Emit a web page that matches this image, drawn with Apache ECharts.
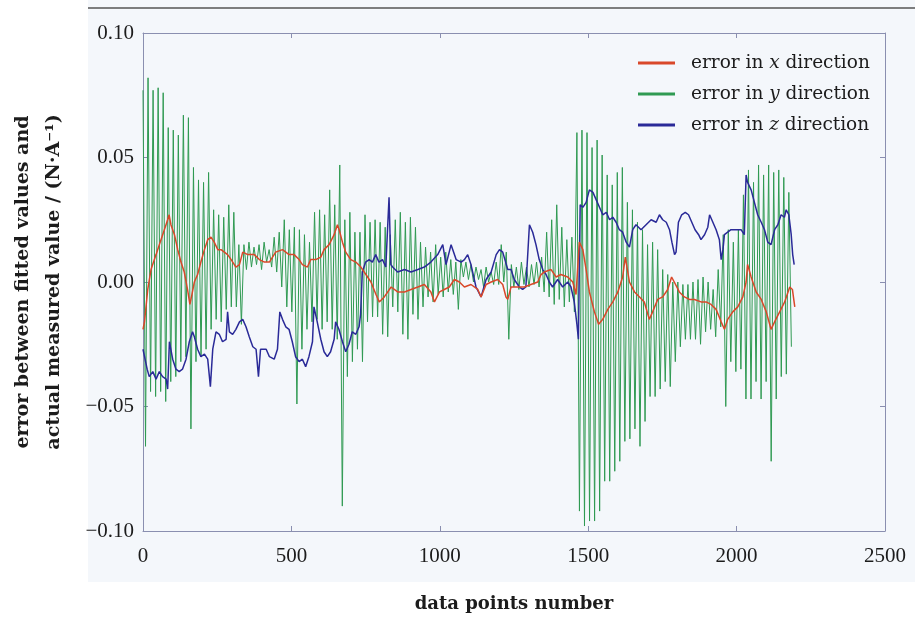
<!DOCTYPE html>
<html>
<head>
<meta charset="utf-8">
<script src="https://cdn.jsdelivr.net/npm/echarts@6/dist/echarts.min.js"></script>
<style>
  html, body { margin: 0; padding: 0; background: #fff; }
  #main { width: 915px; height: 618px; }
</style>
</head>
<body>
<div id="main"></div>
<script>
// y direction: one oscillation every 17 samples, peak then trough
var cycleLen = 17;
var greenHigh = [
  0.077, 0.082, 0.077, 0.078, 0.076, 0.062, 0.061, 0.059, 0.067, 0.066,
  0.046, 0.041, 0.040, 0.044, 0.029, 0.027, 0.026, 0.031, 0.028, 0.015,
  0.015, 0.016, 0.014, 0.015, 0.016, 0.013, 0.018, 0.020, 0.025, 0.021,
  0.022, 0.021, 0.019, 0.016, 0.028, 0.029, 0.027, 0.037, 0.031, 0.047,
  0.025, 0.028, 0.020, 0.020, 0.027, 0.024, 0.025, 0.024, 0.022, 0.019,
  0.025, 0.028, 0.024, 0.026, 0.022, 0.016, 0.014, 0.012, 0.015, 0.010,
  0.012, 0.009, 0.008, 0.009, 0.008, 0.007, 0.006, 0.005, 0.006, 0.004,
  0.008, 0.015, 0.012, 0.007, 0.006, 0.008, 0.006, 0.007, 0.008, 0.010,
  0.020, 0.025, 0.031, 0.022, 0.017, 0.018, 0.060, 0.061, 0.060, 0.054,
  0.057, 0.051, 0.043, 0.039, 0.044, 0.046, 0.032, 0.029, 0.024, 0.021,
  0.015, 0.016, 0.013, 0.005, 0.003, 0.000, 0.000, -0.001, -0.001, 0.000,
  0.001, 0.002, 0.000, -0.003, 0.005, 0.019, 0.021, 0.016, 0.021, 0.035,
  0.045, 0.040, 0.047, 0.043, 0.047, 0.044, 0.045, 0.042, 0.036
];
var greenLow = [
  -0.066, -0.044, -0.046, -0.044, -0.048, -0.040, -0.038, -0.032, -0.030, -0.059,
  -0.032, -0.030, -0.027, -0.019, -0.015, -0.016, -0.011, -0.010, -0.010, -0.017,
  0.005, 0.006, 0.007, 0.005, 0.008, 0.006, 0.004, -0.002, -0.010, -0.012,
  -0.049, -0.027, -0.019, -0.016, -0.015, -0.019, -0.016, -0.019, -0.023, -0.090,
  -0.038, -0.032, -0.027, -0.032, -0.016, -0.014, -0.014, -0.021, -0.022, -0.010,
  -0.012, -0.021, -0.023, -0.013, -0.015, -0.010, -0.006, -0.008, -0.005, -0.006,
  -0.004, -0.005, -0.011, 0.002, 0.001, 0.000, 0.001, -0.002, 0.000, -0.001,
  -0.001, 0.000, -0.023, -0.002, -0.003, -0.001, -0.002, -0.001, -0.002, -0.004,
  -0.006, -0.009, -0.007, -0.010, -0.008, -0.012, -0.092, -0.098, -0.096, -0.096,
  -0.092, -0.080, -0.080, -0.076, -0.072, -0.064, -0.063, -0.059, -0.066, -0.056,
  -0.046, -0.046, -0.043, -0.040, -0.042, -0.032, -0.026, -0.023, -0.023, -0.023,
  -0.025, -0.020, -0.019, -0.022, -0.018, -0.050, -0.032, -0.036, -0.035, -0.047,
  -0.047, -0.040, -0.047, -0.040, -0.072, -0.047, -0.038, -0.037, -0.026
];

// x direction: [data point, error]
var errorX = [
  [0, -0.019], [5, -0.016], [16, -0.003], [27, 0.005], [44, 0.011], [55, 0.015], [72, 0.021],
  [83, 0.025], [88, 0.027], [94, 0.023], [106, 0.019], [117, 0.013], [128, 0.008], [139, 0.004],
  [150, -0.003], [158, -0.009], [165, -0.005], [173, 0.000], [184, 0.003], [195, 0.008],
  [207, 0.013], [218, 0.017], [229, 0.018], [240, 0.016], [252, 0.013], [263, 0.013],
  [274, 0.012], [285, 0.011], [297, 0.009], [313, 0.006], [325, 0.007], [336, 0.012],
  [353, 0.011], [375, 0.011], [392, 0.009], [409, 0.008], [426, 0.008], [447, 0.012],
  [470, 0.013], [492, 0.011], [509, 0.011], [526, 0.009], [537, 0.007], [554, 0.006],
  [565, 0.009], [582, 0.009], [599, 0.010], [610, 0.013], [627, 0.015], [644, 0.019],
  [655, 0.023], [661, 0.021], [672, 0.016], [683, 0.012], [700, 0.009], [717, 0.008],
  [734, 0.006], [751, 0.003], [768, 0.000], [785, -0.005], [796, -0.008], [813, -0.006],
  [836, -0.002], [858, -0.004], [881, -0.004], [903, -0.003], [926, -0.002], [948, -0.001],
  [970, -0.004], [982, -0.008], [999, -0.004], [1015, -0.003], [1032, -0.002], [1049, 0.001],
  [1066, 0.000], [1083, -0.002], [1105, -0.001], [1128, -0.003], [1139, -0.006], [1156, -0.001],
  [1173, 0.000], [1195, 0.001], [1212, -0.001], [1223, -0.006], [1229, -0.007], [1240, -0.002],
  [1262, -0.002], [1285, -0.002], [1307, -0.001], [1330, 0.000], [1341, 0.003], [1352, 0.004],
  [1375, 0.005], [1392, 0.002], [1408, 0.003], [1431, 0.002], [1448, 0.000], [1459, -0.005],
  [1470, 0.016], [1482, 0.013], [1493, 0.005], [1504, -0.004], [1521, -0.012], [1535, -0.017],
  [1549, -0.015], [1566, -0.011], [1583, -0.008], [1600, -0.004], [1616, 0.002], [1625, 0.010],
  [1639, 0.000], [1656, -0.004], [1673, -0.006], [1689, -0.008], [1706, -0.015], [1717, -0.012],
  [1734, -0.007], [1751, -0.006], [1768, -0.003], [1781, 0.002], [1790, 0.000], [1807, -0.004],
  [1824, -0.006], [1841, -0.007], [1858, -0.007], [1880, -0.008], [1897, -0.008], [1914, -0.009],
  [1931, -0.011], [1948, -0.016], [1959, -0.019], [1970, -0.015], [1987, -0.012], [2004, -0.010],
  [2021, -0.006], [2032, 0.000], [2037, 0.007], [2049, 0.002], [2066, -0.004], [2083, -0.007],
  [2100, -0.012], [2116, -0.019], [2128, -0.016], [2145, -0.012], [2162, -0.008], [2179, -0.002],
  [2188, -0.003], [2196, -0.010]
];

// z direction: [data point, error]
var errorZ = [
  [0, -0.027], [5, -0.027], [14, -0.035], [21, -0.038], [33, -0.036], [44, -0.039], [55, -0.036],
  [66, -0.038], [78, -0.039], [83, -0.043], [89, -0.024], [100, -0.031], [111, -0.035], [122, -0.036],
  [133, -0.035], [145, -0.031], [156, -0.024], [167, -0.020], [173, -0.022], [184, -0.027],
  [195, -0.030], [207, -0.029], [218, -0.031], [227, -0.042], [235, -0.027], [246, -0.020],
  [257, -0.021], [268, -0.024], [280, -0.023], [285, -0.012], [291, -0.020], [302, -0.021],
  [313, -0.019], [325, -0.016], [336, -0.015], [347, -0.018], [358, -0.022], [370, -0.026],
  [381, -0.027], [389, -0.038], [396, -0.027], [403, -0.027], [415, -0.027], [426, -0.030],
  [442, -0.031], [453, -0.027], [461, -0.012], [470, -0.015], [481, -0.018], [492, -0.019],
  [503, -0.024], [514, -0.030], [526, -0.032], [537, -0.031], [548, -0.034], [559, -0.030],
  [571, -0.024], [576, -0.010], [587, -0.016], [599, -0.023], [610, -0.028], [621, -0.030],
  [632, -0.028], [644, -0.023], [649, -0.016], [660, -0.019], [672, -0.024], [683, -0.028],
  [694, -0.025], [705, -0.020], [717, -0.021], [728, -0.018], [733, -0.013], [739, 0.004],
  [750, 0.008], [762, 0.009], [773, 0.008], [784, 0.011], [795, 0.008], [807, 0.009],
  [818, 0.006], [829, 0.034], [835, 0.007], [841, 0.006], [858, 0.004], [881, 0.005],
  [903, 0.004], [926, 0.005], [948, 0.006], [970, 0.008], [993, 0.011], [1010, 0.015],
  [1021, 0.007], [1038, 0.015], [1055, 0.009], [1072, 0.008], [1083, 0.009], [1094, 0.011],
  [1105, 0.007], [1122, -0.002], [1139, -0.006], [1156, 0.001], [1173, 0.004], [1190, 0.011],
  [1201, 0.013], [1212, 0.012], [1229, 0.005], [1240, 0.005], [1251, 0.001], [1268, -0.002],
  [1279, -0.003], [1290, -0.002], [1302, 0.023], [1313, 0.020], [1324, 0.015], [1335, 0.009],
  [1347, 0.005], [1358, 0.003], [1369, 0.000], [1380, -0.002], [1397, 0.001], [1414, -0.002],
  [1431, 0.000], [1442, -0.002], [1453, -0.008], [1462, -0.017], [1467, -0.023], [1473, 0.031],
  [1482, 0.030], [1493, 0.032], [1504, 0.037], [1516, 0.036], [1527, 0.033], [1538, 0.030],
  [1549, 0.027], [1561, 0.028], [1572, 0.025], [1583, 0.026], [1594, 0.024], [1605, 0.021],
  [1616, 0.020], [1628, 0.016], [1639, 0.014], [1650, 0.021], [1661, 0.023], [1678, 0.021],
  [1695, 0.023], [1712, 0.025], [1729, 0.024], [1740, 0.027], [1751, 0.025], [1763, 0.024],
  [1774, 0.021], [1782, 0.016], [1791, 0.011], [1796, 0.012], [1804, 0.024], [1815, 0.027],
  [1827, 0.028], [1838, 0.027], [1849, 0.024], [1860, 0.021], [1872, 0.019], [1880, 0.017],
  [1892, 0.019], [1903, 0.022], [1909, 0.027], [1920, 0.024], [1931, 0.021], [1942, 0.017],
  [1948, 0.009], [1954, 0.013], [1959, 0.019], [1970, 0.020], [1981, 0.021], [1993, 0.021],
  [2004, 0.021], [2015, 0.021], [2026, 0.019], [2032, 0.043], [2037, 0.040], [2049, 0.037],
  [2060, 0.032], [2071, 0.027], [2083, 0.024], [2094, 0.021], [2105, 0.016], [2116, 0.015],
  [2128, 0.021], [2139, 0.023], [2150, 0.027], [2161, 0.026], [2167, 0.029], [2176, 0.027],
  [2184, 0.019], [2189, 0.011], [2194, 0.007]
];

var seriesNames = ['error in x direction', 'error in y direction', 'error in z direction'];
var seriesVars = ['x', 'y', 'z'];

var errorY = [];
greenHigh.forEach(function (v, i) {
  errorY.push([i * cycleLen, v]);
  errorY.push([i * cycleLen + cycleLen / 2, greenLow[i]]);
});

var frameColor = '#8a8fb0';
var textColor = '#1c1c1c';

var myChart = echarts.init(document.getElementById('main'));

function valueAxis(pos, showLabel) {
  return {
    type: 'value',
    position: pos,
    axisLine: { show: true, onZero: false, lineStyle: { color: frameColor, width: 1 } },
    axisTick: { show: true, inside: true, length: 5, lineStyle: { color: frameColor } },
    splitLine: { show: false },
    axisLabel: { show: showLabel }
  };
}

var xBottom = valueAxis('bottom', true);
xBottom.min = 0; xBottom.max = 2500; xBottom.interval = 500;
xBottom.axisLabel = {
  fontFamily: 'Liberation Serif', fontSize: 21, color: textColor, margin: 15,
  formatter: function (v) { return String(v); }
};
xBottom.name = 'data points number';
xBottom.nameLocation = 'middle';
xBottom.nameGap = 64;
xBottom.nameTextStyle = { fontFamily: 'DejaVu Serif', fontWeight: 'bold', fontSize: 18, color: textColor };

var xTop = valueAxis('top', false);
xTop.min = 0; xTop.max = 2500; xTop.interval = 500;

var yLeft = valueAxis('left', true);
yLeft.min = -0.1; yLeft.max = 0.1; yLeft.interval = 0.05;
yLeft.axisLabel = {
  fontFamily: 'Liberation Serif', fontSize: 21, color: textColor, margin: 9,
  formatter: function (v) { return (v < -1e-9 ? '\u2212' : '') + Math.abs(v).toFixed(2); }
};
yLeft.name = 'error between fitted values and\nactual measured value / (N\u00b7A\u207b\u00b9)';
yLeft.nameLocation = 'middle';
yLeft.nameRotate = 90;
yLeft.nameGap = 73;
yLeft.nameTextStyle = { fontFamily: 'DejaVu Serif', fontWeight: 'bold', fontSize: 19, lineHeight: 31, color: textColor };

var yRight = valueAxis('right', false);
yRight.min = -0.1; yRight.max = 0.1; yRight.interval = 0.05;

var option = {
  animation: false,
  backgroundColor: '#fff',
  graphic: [
    { type: 'rect', z: -10, shape: { x: 88, y: 0, width: 827, height: 582 }, style: { fill: '#f4f7fb' } },
    { type: 'line', z: -9, shape: { x1: 88, y1: 8, x2: 915, y2: 8 }, style: { stroke: '#555', lineWidth: 1.5 } }
  ],
  grid: { left: 142, right: 30, top: 33, bottom: 86, containLabel: false },
  legend: {
    data: seriesNames,
    orient: 'vertical',
    left: 633,
    top: 48,
    itemWidth: 37,
    itemHeight: 3,
    itemGap: 11,
    icon: 'rect',
    textStyle: {
      padding: [0, 0, 0, 11],
      lineHeight: 20,
      rich: {
        a: { fontFamily: 'DejaVu Serif', fontSize: 18.5, color: textColor },
        i: { fontFamily: 'DejaVu Serif', fontStyle: 'italic', fontSize: 18.5, color: textColor }
      }
    },
    formatter: function (name) {
      var k = seriesNames.indexOf(name);
      return '{a|error in }{i|' + seriesVars[k] + '}{a| direction}';
    }
  },
  xAxis: [xBottom, xTop],
  yAxis: [yLeft, yRight],
  series: [
    {
      name: seriesNames[1], type: 'line', data: errorY, symbol: 'none', z: 2,
      lineStyle: { color: '#2f9a52', width: 1 }, itemStyle: { color: '#2f9a52' }
    },
    {
      name: seriesNames[2], type: 'line', data: errorZ, symbol: 'none', z: 3,
      lineStyle: { color: '#2a2a98', width: 1.5 }, itemStyle: { color: '#2a2a98' }
    },
    {
      name: seriesNames[0], type: 'line', data: errorX, symbol: 'none', z: 4,
      lineStyle: { color: '#d9482a', width: 1.5 }, itemStyle: { color: '#d9482a' }
    }
  ]
};

myChart.setOption(option);
</script>
</body>
</html>
